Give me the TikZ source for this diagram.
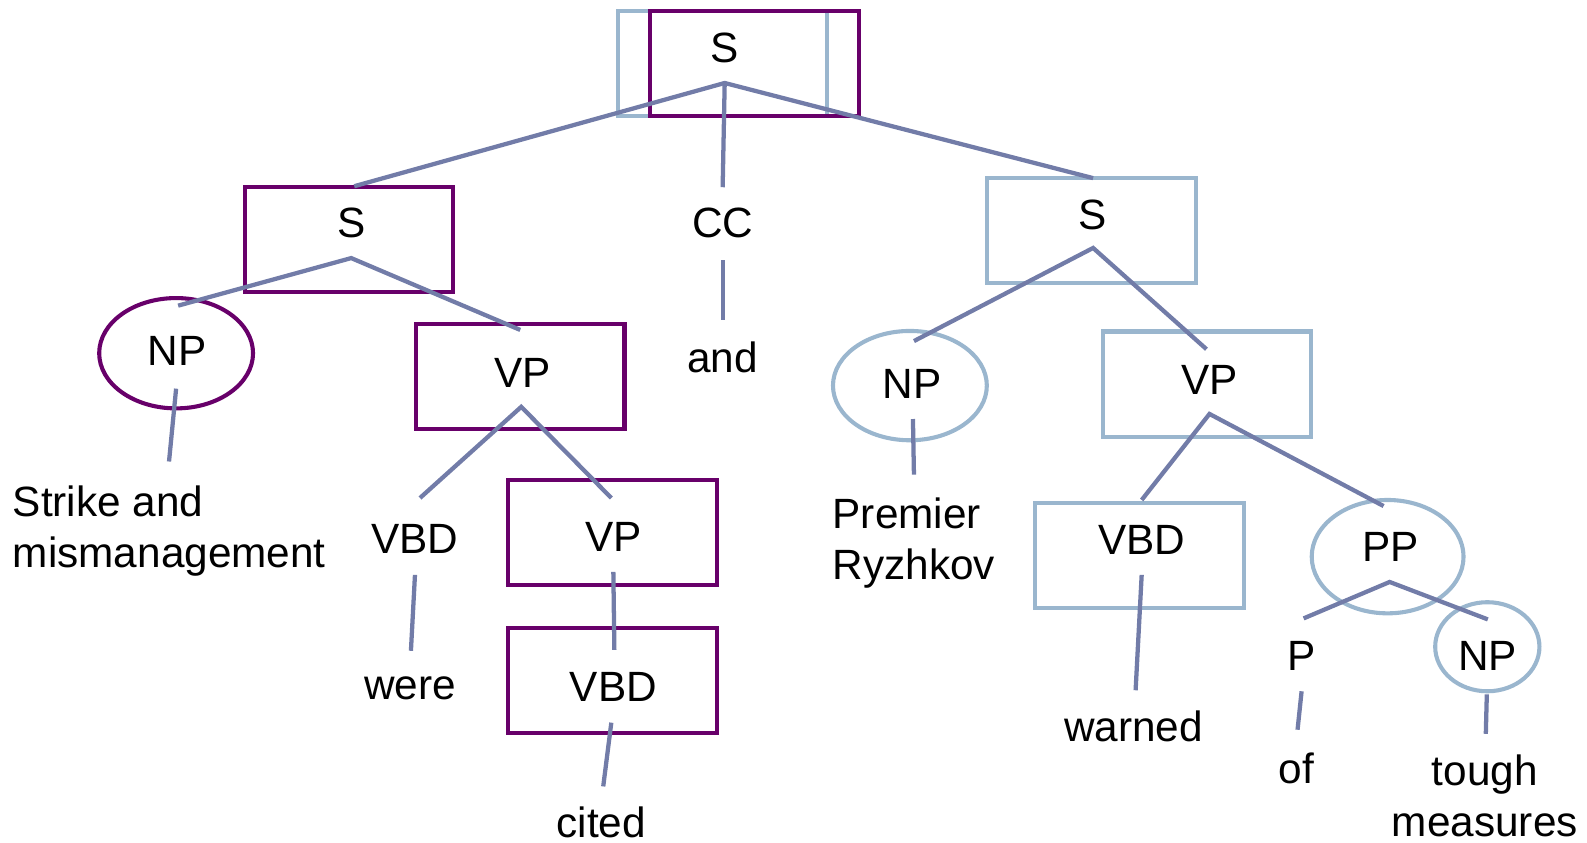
\documentclass[tikz,border=0pt]{standalone}
\usepackage{fontspec}
\setmainfont{Liberation Sans}
\usetikzlibrary{shapes.geometric}
\definecolor{purp}{RGB}{104,0,106}
\definecolor{lblue}{RGB}{154,182,206}
\definecolor{slate}{RGB}{114,124,168}
\newcommand{\treefont}{\fontsize{11.9}{14.5}\selectfont}

\begin{document}
\begin{tikzpicture}[
  every node/.style={font=\treefont},
  pbox/.style={draw=purp, line width=1.15pt, minimum width=2.06cm, minimum height=1.04cm, inner sep=0pt},
  bbox/.style={draw=lblue, line width=1.15pt, minimum width=2.06cm, minimum height=1.04cm, inner sep=0pt},
  pell/.style={draw=purp, ellipse, line width=1.15pt, inner sep=0pt},
  bell/.style={draw=lblue, ellipse, line width=1.15pt, inner sep=0pt},
  branch/.style={draw=slate, line width=1.2pt}
]
\useasboundingbox (0,0) rectangle (15.68,-8.32);
% shapes round the labels
\node[bbox] (boxS0b) at (7.14,-0.63) {};
\node[pbox, minimum width=2.07cm] (boxS0p) at (7.455,-0.625) {};
\node[pbox] (boxS1) at (3.45,-2.365) {};
\node[pbox] (boxVP1) at (5.14,-3.72) {};
\node[pbox] (boxVP3) at (6.05,-5.26) {};
\node[pbox] (boxVBD3) at (6.05,-6.725) {};
\node[bbox] (boxS2) at (10.785,-2.28) {};
\node[bbox] (boxVP2) at (11.925,-3.795) {};
\node[bbox] (boxVBD2) at (11.26,-5.49) {};
\node[pell, minimum width=1.52cm, minimum height=1.09cm] (ellNP1) at (1.74,-3.49) {};
\node[bell, minimum width=1.52cm, minimum height=1.08cm] (ellNP2) at (8.99,-3.81) {};
\node[bell, minimum width=1.50cm, minimum height=1.12cm] (ellPP) at (13.71,-5.50) {};
\node[bell, minimum width=1.03cm, minimum height=0.88cm] (ellNP3) at (14.695,-6.39) {};

% labels
\node (S0) at (7.16,-0.47) {S};
\node (S1) at (3.47,-2.20) {S};
\node (CC) at (7.14,-2.20) {CC};
\node (and) at (7.14,-3.53) {and};
\node (S2) at (10.80,-2.12) {S};
\node (NP1) at (1.75,-3.47) {NP};
\node[anchor=north west, inner sep=0pt, align=left] (strike) at (0.12,-4.79) {Strike and\\mismanagement};
\node (VP1) at (5.16,-3.68) {VP};
\node (VBD1) at (4.10,-5.32) {VBD};
\node (were) at (4.05,-6.80) {were};
\node (VP3) at (6.06,-5.31) {VP};
\node (VBD3) at (6.06,-6.79) {VBD};
\node[inner sep=0pt] (cited) at (5.94,-8.13) {cited};
\node (NP2) at (9.01,-3.79) {NP};
\node[anchor=north west, inner sep=0pt, align=left] (premier) at (8.22,-4.91) {Premier\\Ryzhkov};
\node (VP2) at (11.95,-3.75) {VP};
\node (VBD2) at (11.28,-5.33) {VBD};
\node (warned) at (11.20,-7.18) {warned};
\node (PP) at (13.74,-5.40) {PP};
\node (P) at (12.86,-6.48) {P};
\node (of) at (12.81,-7.59) {of};
\node (NP3) at (14.70,-6.48) {NP};
\node[anchor=north, inner sep=0pt, align=center] (tough) at (14.67,-7.45) {tough\\measures};

% branch points
\coordinate (jS0) at (7.16,-0.82);
\coordinate (tS1) at (3.50,-1.84);
\coordinate (tCC) at (7.14,-1.85);
\coordinate (tS2) at (10.80,-1.76);
\coordinate (jS1) at (3.47,-2.55);
\coordinate (tNP1) at (1.76,-3.02);
\coordinate (tVP1) at (5.14,-3.26);
\coordinate (jCC) at (7.14,-2.57);
\coordinate (tand) at (7.14,-3.16);
\coordinate (jS2) at (10.80,-2.45);
\coordinate (tNP2) at (9.03,-3.37);
\coordinate (tVP2) at (11.92,-3.45);
\coordinate (jNP1) at (1.74,-3.84);
\coordinate (tstrike) at (1.67,-4.56);
\coordinate (jVP1) at (5.15,-4.02);
\coordinate (tVBD1) at (4.15,-4.92);
\coordinate (tVP3) at (6.04,-4.92);
\coordinate (jVBD1) at (4.10,-5.68);
\coordinate (twere) at (4.06,-6.43);
\coordinate (jVP3) at (6.06,-5.65);
\coordinate (tVBD3) at (6.07,-6.42);
\coordinate (jVBD3) at (6.04,-7.14);
\coordinate (tcited) at (5.96,-7.77);
\coordinate (jNP2) at (9.02,-4.14);
\coordinate (tpremier) at (9.03,-4.69);
\coordinate (jVP2) at (11.95,-4.09);
\coordinate (tVBD2) at (11.28,-4.94);
\coordinate (tPP) at (13.67,-5.00);
\coordinate (jVBD2) at (11.28,-5.68);
\coordinate (twarned) at (11.22,-6.82);
\coordinate (jPP) at (13.73,-5.75);
\coordinate (tP) at (12.88,-6.11);
\coordinate (tNP3) at (14.70,-6.12);
\coordinate (jP) at (12.86,-6.83);
\coordinate (tof) at (12.82,-7.21);
\coordinate (jNP3) at (14.69,-6.86);
\coordinate (ttough) at (14.68,-7.25);

\draw[branch] (tS1) -- (jS0) -- (tS2); \draw[branch] (jS0) -- (tCC);
\draw[branch] (tNP1) -- (jS1) -- (tVP1);
\draw[branch] (jCC) -- (tand);
\draw[branch] (tNP2) -- (jS2) -- (tVP2);
\draw[branch] (jNP1) -- (tstrike);
\draw[branch] (tVBD1) -- (jVP1) -- (tVP3);
\draw[branch] (jVBD1) -- (twere);
\draw[branch] (jVP3) -- (tVBD3);
\draw[branch] (jVBD3) -- (tcited);
\draw[branch] (jNP2) -- (tpremier);
\draw[branch] (tVBD2) -- (jVP2) -- (tPP);
\draw[branch] (jVBD2) -- (twarned);
\draw[branch] (tP) -- (jPP) -- (tNP3);
\draw[branch] (jP) -- (tof);
\draw[branch] (jNP3) -- (ttough);
\end{tikzpicture}
\end{document}
